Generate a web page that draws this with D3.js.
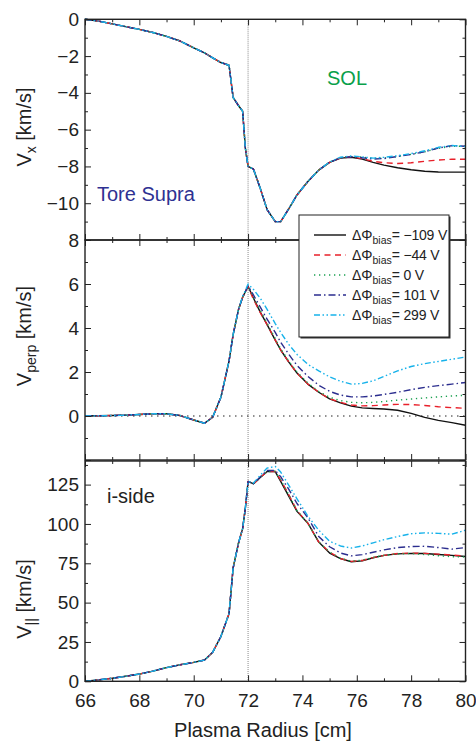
<!DOCTYPE html>
<html><head><meta charset="utf-8">
<script src="https://cdn.jsdelivr.net/npm/d3@7"></script>
<style>
body{margin:0;background:#fff}
svg{display:block;font-family:"Liberation Sans",Arial,Helvetica,sans-serif}
</style>
</head><body>
<svg id="chart" width="476" height="741"></svg>
<script>
// ---------------- data ----------------
const radius = [66, 66.5, 67, 67.5, 68, 68.5, 69, 69.5, 70, 70.4, 70.7, 71.0, 71.3, 71.45, 71.65, 71.8, 71.9, 72.0, 72.2, 72.45, 72.7, 73.0, 73.2, 73.5, 73.8, 74.2, 74.6, 75.0, 75.4, 75.8, 76.2, 76.6, 77.0, 77.5, 78.0, 78.5, 79.0, 79.5, 80];

const biasLabels = ["\u2212109 V", "\u221244 V", "0 V", "101 V", "299 V"];

// V_x [km/s]
const vx_m109 = [0, -0.1, -0.25, -0.4, -0.55, -0.72, -0.93, -1.18, -1.55, -1.83, -2.1, -2.35, -2.5, -4.25, -4.7, -5.0, -7.0, -8.0, -8.15, -9.2, -10.35, -11.0, -11.0, -10.3, -9.55, -8.82, -8.2, -7.78, -7.55, -7.5, -7.6, -7.78, -7.93, -8.07, -8.18, -8.26, -8.3, -8.31, -8.31];
const vx_m44  = [0, -0.1, -0.25, -0.4, -0.55, -0.72, -0.93, -1.18, -1.55, -1.83, -2.1, -2.35, -2.5, -4.25, -4.7, -5.0, -7.0, -8.0, -8.15, -9.2, -10.35, -11.0, -11.0, -10.3, -9.55, -8.82, -8.2, -7.78, -7.54, -7.48, -7.58, -7.72, -7.8, -7.84, -7.8, -7.72, -7.65, -7.61, -7.61];
const vx_0    = [0, -0.1, -0.25, -0.4, -0.55, -0.72, -0.93, -1.18, -1.55, -1.83, -2.1, -2.35, -2.5, -4.25, -4.7, -5.0, -7.0, -8.0, -8.15, -9.2, -10.35, -11.0, -11.0, -10.3, -9.55, -8.82, -8.2, -7.77, -7.52, -7.45, -7.5, -7.56, -7.55, -7.45, -7.34, -7.2, -7.02, -6.9, -6.9];
const vx_101  = [0, -0.1, -0.25, -0.4, -0.55, -0.72, -0.93, -1.18, -1.55, -1.83, -2.1, -2.35, -2.5, -4.25, -4.7, -5.0, -7.0, -8.0, -8.15, -9.2, -10.35, -11.0, -11.0, -10.3, -9.55, -8.82, -8.2, -7.77, -7.53, -7.47, -7.53, -7.6, -7.57, -7.46, -7.35, -7.2, -7.0, -6.87, -6.9];
const vx_299  = [0, -0.1, -0.25, -0.4, -0.55, -0.72, -0.93, -1.18, -1.55, -1.83, -2.1, -2.35, -2.5, -4.25, -4.7, -5.0, -7.0, -8.0, -8.15, -9.2, -10.35, -11.0, -11.0, -10.3, -9.55, -8.82, -8.2, -7.76, -7.5, -7.43, -7.48, -7.55, -7.5, -7.42, -7.3, -7.15, -6.96, -6.86, -6.92];

// V_perp [km/s]
const vperp_m109 = [0, 0.01, 0.02, 0.04, 0.07, 0.1, 0.1, 0.02, -0.18, -0.33, -0.05, 0.85, 2.5, 3.7, 4.85, 5.4, 5.65, 5.9, 5.35, 4.72, 4.15, 3.45, 3.0, 2.45, 1.95, 1.45, 1.08, 0.78, 0.6, 0.45, 0.37, 0.34, 0.32, 0.26, 0.12, -0.06, -0.2, -0.3, -0.42];
const vperp_m44  = [0, 0.01, 0.02, 0.04, 0.07, 0.1, 0.1, 0.02, -0.18, -0.33, -0.05, 0.85, 2.5, 3.7, 4.85, 5.4, 5.65, 5.88, 5.3, 4.7, 4.15, 3.45, 3.0, 2.45, 1.95, 1.45, 1.08, 0.78, 0.62, 0.5, 0.46, 0.47, 0.5, 0.53, 0.52, 0.48, 0.42, 0.38, 0.35];
const vperp_0    = [0, 0.01, 0.02, 0.04, 0.07, 0.1, 0.1, 0.02, -0.18, -0.33, -0.05, 0.85, 2.5, 3.7, 4.85, 5.4, 5.65, 5.9, 5.4, 4.8, 4.22, 3.52, 3.05, 2.5, 2.0, 1.5, 1.12, 0.85, 0.7, 0.62, 0.6, 0.62, 0.66, 0.72, 0.77, 0.82, 0.87, 0.91, 0.94];
const vperp_101  = [0, 0.01, 0.02, 0.04, 0.07, 0.1, 0.1, 0.02, -0.18, -0.33, -0.05, 0.85, 2.5, 3.7, 4.85, 5.4, 5.65, 5.92, 5.5, 4.95, 4.4, 3.8, 3.35, 2.8, 2.3, 1.8, 1.4, 1.12, 0.95, 0.87, 0.87, 0.91, 0.98, 1.08, 1.2, 1.3, 1.38, 1.45, 1.52];
const vperp_299  = [0, 0.01, 0.02, 0.04, 0.07, 0.1, 0.1, 0.02, -0.18, -0.33, -0.05, 0.85, 2.5, 3.7, 4.85, 5.45, 5.7, 6.0, 5.75, 5.35, 4.85, 4.2, 3.8, 3.25, 2.8, 2.35, 2.05, 1.78, 1.58, 1.45, 1.48, 1.6, 1.8, 2.05, 2.25, 2.38, 2.48, 2.58, 2.68];

// V_|| [km/s]
const vpar_m109 = [0, 0.9, 1.9, 3.2, 4.6, 6.5, 8.7, 10.5, 12, 13.5, 18.5, 28.5, 43, 72, 88, 97, 110, 127, 125.5, 129.5, 133.3, 133.3, 127, 117.5, 108, 100.5, 88.5, 81.5, 78, 76, 76.5, 78.5, 80, 81, 81.3, 81.2, 80.6, 80, 79.3];
const vpar_m44  = [0, 0.9, 1.9, 3.2, 4.6, 6.5, 8.7, 10.5, 12, 13.5, 18.5, 28.5, 43, 72, 88, 97, 110, 127, 125.5, 129.5, 133.3, 133.3, 128, 118.5, 108.5, 100.5, 88.5, 82, 78, 76.2, 76.8, 78.6, 80, 81.2, 81.5, 81.3, 80.8, 80.2, 79.5];
const vpar_0    = [0, 0.9, 1.9, 3.2, 4.6, 6.5, 8.7, 10.5, 12, 13.5, 18.5, 28.5, 43, 72, 88, 97, 110, 127, 125.5, 129.5, 133.3, 133.3, 128, 118.5, 108.5, 100.5, 88.5, 82.2, 78.2, 76.3, 77, 78.7, 80, 81, 81.2, 80.6, 79.8, 79.2, 79];
const vpar_101  = [0, 0.9, 1.9, 3.2, 4.6, 6.5, 8.7, 10.5, 12, 13.5, 18.5, 28.5, 43, 72, 88, 97, 110, 127, 125.5, 130, 134, 134, 130, 122, 113, 104, 92, 85.5, 81.5, 79.7, 80.5, 82, 83.5, 85, 85.6, 85.8, 85, 84, 85];
const vpar_299  = [0, 0.9, 1.9, 3.2, 4.6, 6.5, 8.7, 10.5, 12, 13.5, 18.5, 28.5, 43, 72, 88, 97, 110, 127, 126, 131, 135.5, 136.5, 133, 124.5, 116, 105, 96, 89, 86, 84.7, 86, 88, 90, 92, 93.8, 94.3, 94, 93.5, 96];

// tick values
const xMajorTicks = [66, 68, 70, 72, 74, 76, 78, 80];
const xMinorTicks = [67, 69, 71, 73, 75, 77, 79];
const vxMajor = [0, -2, -4, -6, -8, -10, -12];
const vxMinor = [-1, -3, -5, -7, -9, -11];
const vxLabels = [0, -2, -4, -6, -8, -10];
const vperpMajor = [-2, 0, 2, 4, 6, 8];
const vperpMinor = [-1, 1, 3, 5, 7];
const vperpLabels = [0, 2, 4, 6, 8];
const vparMajor = [0, 25, 50, 75, 100, 125];
const vparMinor = [12.5, 37.5, 62.5, 87.5, 112.5, 137.5];
const vparLabels = [0, 25, 50, 75, 100, 125];

// ---------------- styles ----------------
const seriesColors = ["#111111", "#e8202a", "#1aa050", "#2b2d8e", "#17b2ea"];
const seriesDash = ["none", "6,4.5", "1.3,3.7", "7,3,1.5,3", "6,2.5,1.5,2.5,1.5,2.5"];

// ---------------- drawing ----------------
const svg = d3.select("#chart");
const X0 = 85, X1 = 465.5;
const x = d3.scaleLinear().domain([66, 80]).range([X0, X1]);

const panels = [
  {domain: [-12, 0], top: 19.3, bottom: 240, series: [vx_m109, vx_m44, vx_0, vx_101, vx_299], major: vxMajor, minor: vxMinor, labels: vxLabels},
  {domain: [-2, 8], top: 240, bottom: 460, series: [vperp_m109, vperp_m44, vperp_0, vperp_101, vperp_299], major: vperpMajor, minor: vperpMinor, labels: vperpLabels},
  {domain: [0, 140], top: 461, bottom: 681.3, series: [vpar_m109, vpar_m44, vpar_0, vpar_101, vpar_299], major: vparMajor, minor: vparMinor, labels: vparLabels}
];

const fmt = d => d < 0 ? "\u2212" + Math.abs(d) : String(d);

panels.forEach((p, pi) => {
  const y = d3.scaleLinear().domain(p.domain).range([p.bottom, p.top]);
  p.y = y;
  const g = svg.append("g");

  // reference dotted line at x = 72
  g.append("line")
    .attr("x1", x(72)).attr("x2", x(72))
    .attr("y1", y(p.domain[1])).attr("y2", y(p.domain[0]))
    .attr("stroke", "#8a8a8a").attr("stroke-width", 1).attr("stroke-dasharray", "1,1");

  // zero dotted line for middle panel
  if (pi === 1) {
    g.append("line")
      .attr("x1", x(66)).attr("x2", x(80))
      .attr("y1", y(0)).attr("y2", y(0))
      .attr("stroke", "#222").attr("stroke-width", 1).attr("stroke-dasharray", "1.5,4.5");
  }

  // series
  const line = d3.line().x((d, i) => x(radius[i])).y(d => y(d));
  p.series.forEach((s, si) => {
    g.append("path")
      .attr("d", line(s))
      .attr("fill", "none")
      .attr("stroke", seriesColors[si])
      .attr("stroke-width", 1.4)
      .attr("stroke-linejoin", "round")
      .attr("stroke-dasharray", seriesDash[si]);
  });

  // axes: left (labels), right, top, bottom
  const mk = (axis, tr) => {
    const a = g.append("g").attr("transform", tr).call(axis);
    a.select(".domain").remove();
    a.selectAll(".tick line").attr("stroke", "#222").attr("stroke-width", 1);
    a.selectAll("text").attr("font-size", 19).attr("fill", "#222").attr("font-family", '"Liberation Sans", Arial, sans-serif');
    return a;
  };
  mk(d3.axisLeft(y).tickValues(p.major).tickSize(-6).tickPadding(6).tickFormat(d => p.labels.includes(d) ? fmt(d) : ""), `translate(${X0},0)`);
  mk(d3.axisLeft(y).tickValues(p.minor).tickSize(-3).tickFormat(""), `translate(${X0},0)`);
  mk(d3.axisRight(y).tickValues(p.major).tickSize(-6).tickFormat(""), `translate(${X1},0)`);
  mk(d3.axisRight(y).tickValues(p.minor).tickSize(-3).tickFormat(""), `translate(${X1},0)`);
  mk(d3.axisTop(x).tickValues(xMajorTicks).tickSize(-6).tickFormat(""), `translate(0,${p.top})`);
  mk(d3.axisTop(x).tickValues(xMinorTicks).tickSize(-3).tickFormat(""), `translate(0,${p.top})`);
  if (pi === 2) {
    mk(d3.axisBottom(x).tickValues(xMajorTicks).tickSize(-6).tickPadding(12).tickFormat(d => d), `translate(0,${p.bottom})`);
  } else {
    mk(d3.axisBottom(x).tickValues(xMajorTicks).tickSize(-6).tickFormat(""), `translate(0,${p.bottom})`);
  }
  mk(d3.axisBottom(x).tickValues(xMinorTicks).tickSize(-3).tickFormat(""), `translate(0,${p.bottom})`);

  // frame
  g.append("rect")
    .attr("x", X0).attr("y", p.top)
    .attr("width", X1 - X0).attr("height", p.bottom - p.top)
    .attr("fill", "none").attr("stroke", "#222").attr("stroke-width", 1.4);
});

// ---------------- text annotations ----------------
const T = svg.append("g").attr("font-size", 20);
T.append("text").attr("x", 347).attr("y", 85).attr("text-anchor", "middle").attr("fill", "#0aa04a").text("SOL");
T.append("text").attr("x", 97).attr("y", 201).attr("fill", "#2e3192").text("Tore Supra");
T.append("text").attr("x", 107).attr("y", 503).attr("fill", "#222").text("i-side");

// axis titles
function yTitle(cx, cy, main, sub) {
  const t = svg.append("text")
    .attr("transform", `translate(${cx},${cy}) rotate(-90)`)
    .attr("text-anchor", "middle").attr("font-size", 20).attr("fill", "#222");
  t.append("tspan").text("V");
  t.append("tspan").attr("dy", 5).attr("font-size", 14).text(sub);
  t.append("tspan").attr("dy", -5).text(" [km/s]");
}
yTitle(31, 127, "V", "x");
yTitle(31, 336, "V", "perp");
yTitle(31, 599, "V", "||");

svg.append("text").attr("x", 263).attr("y", 737).attr("text-anchor", "middle")
  .attr("font-size", 20).attr("fill", "#222").text("Plasma Radius [cm]");

// ---------------- legend ----------------
const L = {x: 299, y: 215, w: 150, h: 122};
svg.append("rect").attr("x", L.x + 1.5).attr("y", L.y + 1.5).attr("width", L.w).attr("height", L.h).attr("fill", "#333");
svg.append("rect").attr("x", L.x).attr("y", L.y).attr("width", L.w).attr("height", L.h)
  .attr("fill", "#fff").attr("stroke", "#222").attr("stroke-width", 1);
biasLabels.forEach((lab, i) => {
  const cy = 235 + i * 20;
  svg.append("line").attr("x1", 314).attr("x2", 346).attr("y1", cy).attr("y2", cy)
    .attr("stroke", seriesColors[i]).attr("stroke-width", 1.4).attr("stroke-dasharray", seriesDash[i]);
  const t = svg.append("text").attr("x", 352).attr("y", cy + 5).attr("font-size", 14).attr("fill", "#222");
  t.append("tspan").text("\u0394\u03A6");
  t.append("tspan").attr("dy", 4).attr("font-size", 10.5).text("bias");
  t.append("tspan").attr("dy", -4).attr("letter-spacing", -0.2).text("= " + lab);
});
</script>
</body></html>
